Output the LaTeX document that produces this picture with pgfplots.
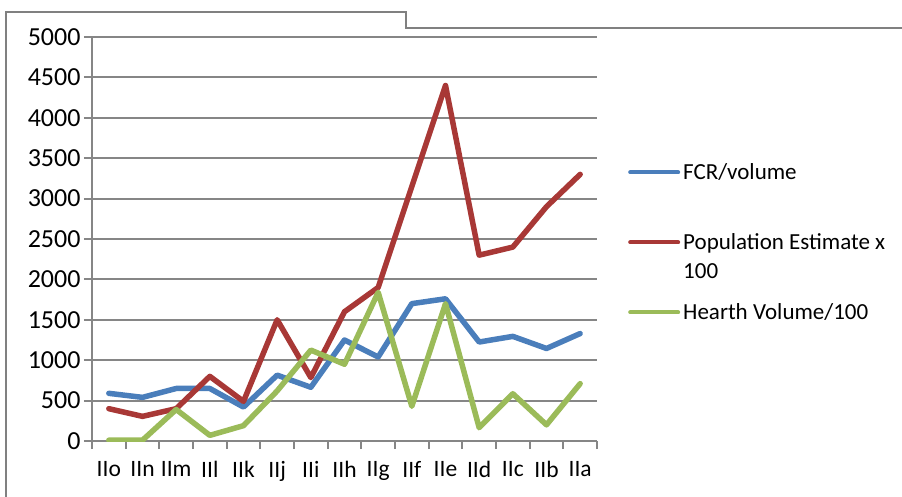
\documentclass[border=0pt]{standalone}
\usepackage{pgfplots}
\pgfplotsset{compat=1.18}
\usepackage{fontspec}
\setmainfont{Carlito}

\definecolor{fcrblue}{RGB}{74,126,187}
\definecolor{popred}{RGB}{168,56,54}
\definecolor{hearthgreen}{RGB}{155,187,89}
\definecolor{gridgray}{RGB}{134,134,134}
\definecolor{framegray}{RGB}{128,128,128}

% legend text with a fixed height and no depth, so each key line sits
% beside the first line of its entry
\newcommand{\legtext}[1]{\raisebox{0pt}[15pt][0pt]{\begin{tabular}[t]{@{}l@{}}#1\end{tabular}}}

\begin{document}
\begin{tikzpicture}
\useasboundingbox (0,0) rectangle (902pt,496pt);
% outer chart frame
\draw[framegray, line width=2pt] (6pt,-5pt) -- (6pt,484pt) -- (406pt,484pt) -- (406pt,468pt) -- (910pt,468pt);
\begin{axis}[
  at={(92pt,55pt)}, anchor=south west,
  scale only axis, width=505pt, height=404pt,
  xmin=0, xmax=15, ymin=0, ymax=5000,
  axis lines*=left,
  axis line style={gridgray, line width=2pt},
  xtick={0,...,15},
  x tick label as interval,
  xticklabels={IIo,IIn,IIm,IIl,IIk,IIj,IIi,IIh,IIg,IIf,IIe,IId,IIc,IIb,IIa},
  xticklabel style={yshift=-9pt, font=\fontsize{23.5}{28}\selectfont},
  yticklabel style={font=\fontsize{26}{31}\selectfont},
  ytick={0,500,...,5000},
  ymajorgrids,
  grid style={gridgray, line width=2pt},
  tick style={gridgray, line width=2pt},
  tick align=outside,
  major tick length=8pt,
  ticklabel style={text=black},
  /pgf/number format/assume math mode=true,
  /pgf/number format/set thousands separator={},
  legend style={at={(1.0614,0.6906)}, anchor=north west, draw=none, fill=none,
    inner sep=0pt, row sep=49.5pt, column sep=1pt,
    font=\fontsize{23}{29}\selectfont},
  legend cell align=left,
  legend image code/.code={\draw[#1, line width=4pt, line cap=round] (0pt,0pt) -- (48pt,0pt);},
  every axis plot/.append style={line width=5.5pt, line join=round, line cap=round},
]
\addplot[fcrblue] coordinates {
  (0.5,590) (1.5,540) (2.5,650) (3.5,650) (4.5,420) (5.5,815) (6.5,665)
  (7.5,1250) (8.5,1040) (9.5,1700) (10.5,1760) (11.5,1225) (12.5,1295)
  (13.5,1145) (14.5,1330)};
\addlegendentry{\legtext{FCR/volume}}
\addplot[popred] coordinates {
  (0.5,400) (1.5,305) (2.5,400) (3.5,800) (4.5,490) (5.5,1500) (6.5,785)
  (7.5,1600) (8.5,1900) (9.5,3150) (10.5,4400) (11.5,2300) (12.5,2400)
  (13.5,2900) (14.5,3300)};
\addlegendentry{\legtext{Population Estimate x\\100}}
\addplot[hearthgreen] coordinates {
  (0.5,10) (1.5,10) (2.5,390) (3.5,70) (4.5,190) (5.5,620) (6.5,1125)
  (7.5,950) (8.5,1840) (9.5,430) (10.5,1700) (11.5,165) (12.5,585)
  (13.5,200) (14.5,710)};
\addlegendentry{\legtext{Hearth Volume/100}}
\end{axis}
\end{tikzpicture}
\end{document}
